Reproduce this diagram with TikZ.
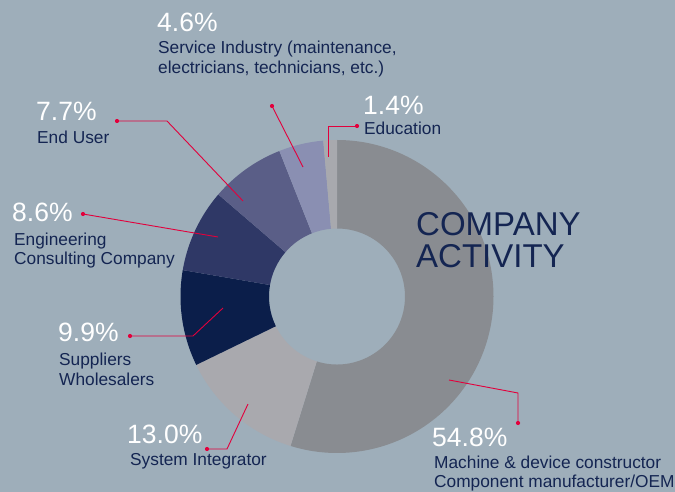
\documentclass[tikz,border=0pt]{standalone}
\usepackage{fontspec}
\setmainfont{Liberation Sans}
\definecolor{bg}{RGB}{158,174,186}
\definecolor{sA}{RGB}{137,140,145}
\definecolor{sB}{RGB}{169,169,174}
\definecolor{sC}{RGB}{11,30,74}
\definecolor{sD}{RGB}{47,56,102}
\definecolor{sE}{RGB}{90,94,135}
\definecolor{sF}{RGB}{138,143,178}
\definecolor{sG}{RGB}{168,169,174}
\definecolor{txt}{RGB}{20,37,82}
\definecolor{lead}{RGB}{226,0,60}
\tikzset{
  pct/.style={anchor=base west, inner sep=0pt, text=white, font=\fontsize{26.5}{28}\selectfont},
  lbl/.style={anchor=base west, inner sep=0pt, text=txt, font=\fontsize{17.3}{19}\selectfont},
  ttl/.style={anchor=base west, inner sep=0pt, text=txt, font=\fontsize{33}{34}\selectfont},
  leader/.style={draw=lead, line width=0.9pt},
  dotnode/.style={circle, fill=lead, inner sep=0pt, minimum size=4.2pt},
}
\newcommand{\slice}[3]{%
  \fill[#3, shift={(337,296.5)}] (#1:156.5) arc[start angle=#1, end angle=#2, radius=156.5]
    -- (#2:68) arc[start angle=#2, end angle=#1, radius=68] -- cycle;}
\begin{document}
\begin{tikzpicture}[x=1pt,y=-1pt]
\fill[bg] (0,0) rectangle (675,492);
\useasboundingbox (0,0) rectangle (675,492);
% donut
\slice{-90}{107.28}{sA}
\slice{107.28}{154.08}{sB}
\slice{154.08}{189.72}{sC}
\slice{189.72}{220.68}{sD}
\slice{220.68}{248.40}{sE}
\slice{248.40}{264.96}{sF}
\slice{264.96}{270}{sG}
% title
\node[ttl] (t1) at (416,235) {COMPANY};
\node[ttl] (t2) at (416,267) {ACTIVITY};
% 4.6 service
\node[pct] (p46) at (157,32) {4.6\%};
\node[lbl] (l46a) at (158,54) {Service Industry (maintenance,};
\node[lbl] (l46b) at (158,73.5) {electricians, technicians, etc.)};
\node[dotnode] (d46) at (272,106) {};
\coordinate (e46) at (303,167);
\draw[leader] (d46.center) -- (e46);
% 1.4 education
\node[pct] (p14) at (363,115) {1.4\%};
\node[lbl] (l14) at (364,135) {Education};
\node[dotnode] (d14) at (357,126) {};
\coordinate (b14) at (328,126);
\coordinate (e14) at (328,157);
\draw[leader] (d14.center) -- (b14) -- (e14);
% 7.7 end user
\node[pct] (p77) at (36,121) {7.7\%};
\node[lbl] (l77) at (37,144) {End User};
\node[dotnode] (d77) at (117,121) {};
\coordinate (b77) at (167,121);
\coordinate (e77) at (243,201);
\draw[leader] (d77.center) -- (b77) -- (e77);
% 8.6 engineering
\node[pct] (p86) at (12,222) {8.6\%};
\node[lbl] (l86a) at (14,245) {Engineering};
\node[lbl] (l86b) at (14,264.5) {Consulting Company};
\node[dotnode] (d86) at (83,214) {};
\coordinate (e86) at (218,237);
\draw[leader] (d86.center) -- (e86);
% 9.9 suppliers
\node[pct] (p99) at (58,341) {9.9\%};
\node[lbl] (l99a) at (59,365) {Suppliers};
\node[lbl] (l99b) at (59,385) {Wholesalers};
\node[dotnode] (d99) at (130,336) {};
\coordinate (b99) at (193,336);
\coordinate (e99) at (223,308);
\draw[leader] (d99.center) -- (b99) -- (e99);
% 13.0 system integrator
\node[pct] (p130) at (127,443) {13.0\%};
\node[lbl] (l130) at (130,465) {System Integrator};
\node[dotnode] (d130) at (207,449) {};
\coordinate (b130) at (227,449);
\coordinate (e130) at (248,404);
\draw[leader] (d130.center) -- (b130) -- (e130);
% 54.8 machine
\node[pct] (p548) at (432,446) {54.8\%};
\node[lbl] (l548a) at (434,468) {Machine \& device constructor};
\node[lbl] (l548b) at (434,487) {Component manufacturer/OEM};
\node[dotnode] (d548) at (518,423) {};
\coordinate (b548) at (518,393);
\coordinate (e548) at (449,380);
\draw[leader] (d548.center) -- (b548) -- (e548);
\end{tikzpicture}
\end{document}
